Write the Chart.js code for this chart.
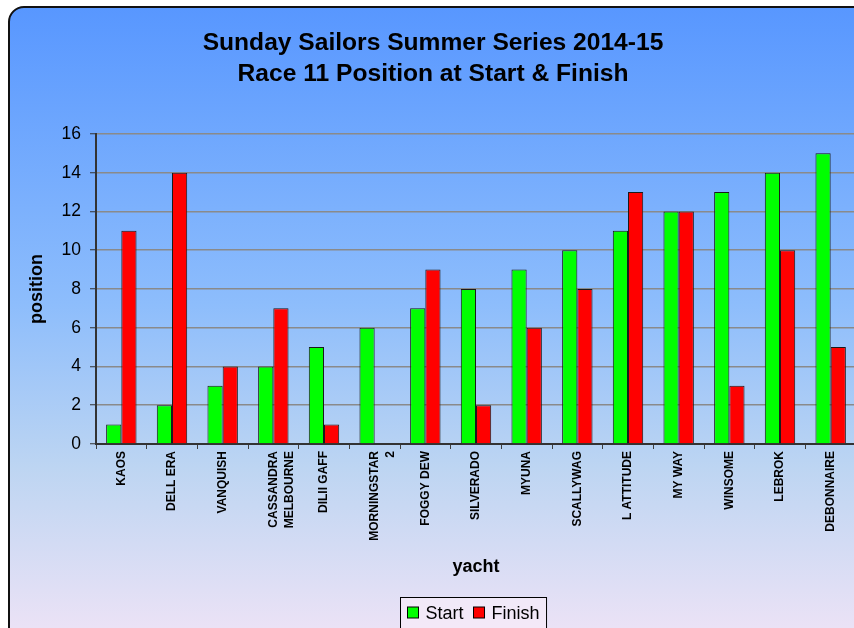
<!DOCTYPE html>
<html>
<head>
<meta charset="utf-8">
<script src="https://cdn.jsdelivr.net/npm/chart.js@4"></script>
<style>
  html, body { margin: 0; padding: 0; width: 854px; height: 628px; overflow: hidden; background: #ffffff; }
  #frame {
    position: absolute; left: 8px; top: 6px; width: 880px; height: 660px;
    border: 2px solid #111; border-radius: 16px; box-sizing: border-box;
    background: linear-gradient(to bottom, #5897FF 0%, #8DBDFC 45%, #BDD5F2 70%, #F5E5F7 100%);
    overflow: hidden;
  }
  #wrap { position: absolute; left: 0px; top: 0px; width: 850px; height: 640px; }
</style>
</head>
<body>
<div id="frame"><div id="wrap"><canvas id="c" width="850" height="640"></canvas></div></div>
<script>
const categories = ["KAOS", "DELL ERA", "VANQUISH", ["CASSANDRA", "MELBOURNE"], "DILII GAFF",
  ["MORNINGSTAR", "2"], "FOGGY DEW", "SILVERADO", "MYUNA", "SCALLYWAG", "L ATTITUDE",
  "MY WAY", "WINSOME", "LEBROK", "DEBONNAIRE"];
const startPos  = [1, 2, 3, 4, 5, 6, 7, 8, 9, 10, 11, 12, 13, 14, 15];
const finishPos = [11, 14, 4, 7, 1, null, 9, 2, 6, 8, 13, 12, 3, 10, 5];
const titleLines = ["Sunday Sailors Summer Series 2014-15", "Race 11 Position at Start & Finish"];
const yTitle = "position";
const xTitle = "yacht";

const FONT = "'Liberation Sans', Arial, sans-serif";

const legendPlugin = {
  id: 'customLegend',
  afterDraw(chart) {
    const ctx = chart.ctx;
    const ca = chart.chartArea;
    ctx.save();
    ctx.font = "18px " + FONT;
    const items = chart.data.datasets.map(d => ({ label: d.label, color: d.backgroundColor }));
    const box = 12, gap1 = 6, gap2 = 10, padX = 7;
    let w = padX * 2;
    items.forEach((it, i) => { w += box + gap1 + ctx.measureText(it.label).width + (i < items.length - 1 ? gap2 : 0); });
    const cx = (ca.left + ca.right) / 2 - 3;
    const x0 = Math.round(cx - w / 2) + 0.5;
    const y0 = 589.5, h = 34;
    ctx.lineWidth = 1;
    ctx.strokeStyle = '#000';
    ctx.fillStyle = 'rgba(250,238,250,0.6)';
    ctx.fillRect(x0, y0, w, h);
    ctx.strokeRect(x0, y0, w, h);
    let x = x0 + padX;
    const cy = 605;
    ctx.textBaseline = 'middle';
    ctx.textAlign = 'left';
    items.forEach((it, i) => {
      ctx.fillStyle = it.color;
      ctx.fillRect(x, cy - box / 2, box - 1, box - 1);
      ctx.strokeStyle = '#000';
      ctx.strokeRect(x, cy - box / 2, box - 1, box - 1);
      x += box + gap1;
      ctx.fillStyle = '#000';
      ctx.fillText(it.label, x, cy + 1);
      x += ctx.measureText(it.label).width + gap2;
    });
    ctx.restore();
  }
};

new Chart(document.getElementById('c'), {
  type: 'bar',
  data: {
    labels: categories,
    datasets: [
      { label: 'Start', data: startPos, backgroundColor: '#00FF00', borderColor: '#1a1a1a', borderWidth: 1 },
      { label: 'Finish', data: finishPos, backgroundColor: '#FF0000', borderColor: '#1a1a1a', borderWidth: 1 }
    ]
  },
  options: {
    responsive: false,
    animation: false,
    layout: { padding: { left: 0, right: 4, top: 0, bottom: 70 } },
    datasets: { bar: { categoryPercentage: 0.6, barPercentage: 1.0 } },
    plugins: {
      legend: { display: false },
      tooltip: { enabled: false },
      title: {
        display: true,
        text: titleLines,
        color: '#000',
        font: { family: FONT, size: 24.6, weight: 'bold', lineHeight: 1.26 },
        padding: { top: 20, bottom: 44 }
      }
    },
    scales: {
      x: {
        grid: { display: true, drawOnChartArea: false, drawTicks: true, tickLength: 5, color: '#404040', lineWidth: 1, offset: true },
        border: { display: true, color: '#333', width: 2 },
        ticks: {
          color: '#000', font: { family: FONT, size: 12, weight: 'bold', lineHeight: 1.35 },
          minRotation: 90, maxRotation: 90, autoSkip: false, padding: 2
        },
        title: { display: true, text: xTitle, color: '#000', font: { family: FONT, size: 18, weight: 'bold' }, padding: { top: 0, bottom: 0 } },
        afterFit(scale) { scale.height = 134; }
      },
      y: {
        min: 0, max: 16,
        ticks: { stepSize: 2, color: '#000', font: { family: FONT, size: 17.5 }, padding: 9 },
        grid: { color: '#8a8a8a', lineWidth: 1.5, tickLength: 6, tickColor: '#333', tickWidth: 1 },
        border: { display: true, color: '#333', width: 2 },
        title: { display: true, text: yTitle, color: '#000', font: { family: FONT, size: 18, weight: 'bold' }, padding: { top: 16, bottom: 0 } },
        afterFit(scale) { scale.width = 86; }
      }
    }
  },
  plugins: [legendPlugin]
});
</script>
</body>
</html>
